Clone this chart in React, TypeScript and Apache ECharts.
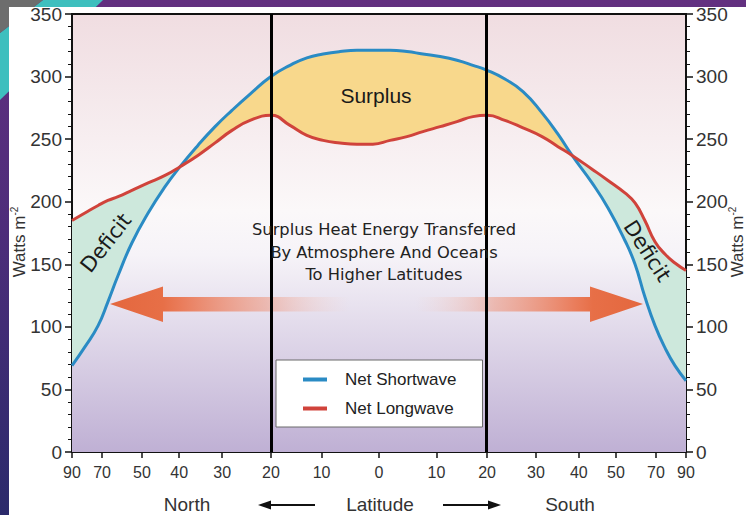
import React, { useEffect, useRef } from "react";
import * as echarts from "echarts";

// x positions on an area-weighted (sine) latitude scale: -1 = 90°N, 0 = equator, 1 = 90°S
const xPos = [
  -1.0, -0.958, -0.915, -0.883, -0.85, -0.805, -0.752, -0.697, -0.648, -0.59, -0.534,
  -0.479, -0.42, -0.352, -0.29, -0.235, -0.182, -0.127, -0.072, -0.02, 0.036, 0.091,
  0.143, 0.199, 0.254, 0.306, 0.352, 0.41, 0.469, 0.531, 0.583, 0.629, 0.694, 0.746,
  0.801, 0.834, 0.866, 0.899, 0.932, 0.964, 1.0,
];
const netShortwave = [
  69, 84, 101, 120, 141, 167, 191, 212, 228, 245, 260, 273, 286, 300, 309, 315, 318, 320,
  321, 321, 321, 320, 318, 316, 313, 309, 305, 298, 288, 271, 254, 237, 215, 195, 169, 150,
  124, 101, 83, 69, 57,
];
const netLongwave = [
  185, 191, 197, 201, 204, 209, 215, 221, 228, 237, 247, 257, 265, 269, 261, 253, 249, 247,
  246, 246, 249, 252, 256, 260, 264, 268, 269, 265, 259, 252, 244, 237, 226, 217, 207, 199,
  185, 168, 158, 151, 145,
];
const tickLabels = ["90", "70", "50", "40", "30", "20", "10", "0", "10", "20", "30", "40", "50", "70", "90"];
const tickPos = [-1, -0.902, -0.772, -0.651, -0.511, -0.352, -0.187, 0, 0.187, 0.352, 0.511, 0.651, 0.772, 0.902, 1];
const dividerPos = [-0.352, 0.352];
const yTicks = { min: 0, max: 350, interval: 50 };

const FONT = "'Liberation Sans', Arial, Helvetica, sans-serif";
const VFONT = "'DejaVu Sans', Verdana, sans-serif";
const BLUE = "#2a8bc4";
const RED = "#d0433b";

const GRID = { left: 72, right: 60, top: 14, bottom: 63 };
const H = 515;
const bgStops = [
  { offset: 0, color: "#f0dde1" },
  { offset: 0.45, color: "#fbf8f9" },
  { offset: 0.55, color: "#f6f3f8" },
  { offset: 1, color: "#bfb0d4" },
];

export default function App() {
  const ref = useRef<HTMLDivElement>(null);
  useEffect(() => {
    if (!ref.current) return;
    const chart = echarts.init(ref.current, undefined, { renderer: "svg" });
    const lower = xPos.map((x, i) => [x, Math.min(netShortwave[i], netLongwave[i])]);
    const sw = xPos.map((x, i) => [x, netShortwave[i]]);
    const lw = xPos.map((x, i) => [x, netLongwave[i]]);
    const smooth = 0.5;

    const fmt = (v: number) => {
      let best = 0;
      tickPos.forEach((p, i) => {
        if (Math.abs(p - v) < Math.abs(tickPos[best] - v)) best = i;
      });
      return tickLabels[best];
    };

    const yAxisCommon = (position: "left" | "right") => ({
      type: "value" as const,
      position,
      min: yTicks.min,
      max: yTicks.max,
      interval: yTicks.interval,
      axisLine: { show: true, onZero: false, lineStyle: { color: "#111", width: 2 } },
      axisTick: { show: true, length: 7, lineStyle: { color: "#111", width: 1.5 } },
      minorTick: { show: true, splitNumber: 5, length: 4, lineStyle: { color: "#111", width: 1 } },
      axisLabel: { fontSize: 19, color: "#333", fontFamily: FONT, margin: 10 },
      splitLine: { show: false },
    });

    const arrowGrad = (dir: "left" | "right") =>
      new echarts.graphic.LinearGradient(dir === "left" ? 0 : 1, 0, dir === "left" ? 1 : 0, 0, [
        { offset: 0, color: "#e4673e" },
        { offset: 0.22, color: "#e76f47" },
        { offset: 0.3, color: "#ea7d5c" },
        { offset: 0.65, color: "rgba(238,150,125,0.55)" },
        { offset: 1, color: "rgba(245,205,195,0)" },
      ]);

    const areaSeries = (data: number[][], fill: any) => ({
      type: "line",
      data,
      smooth,
      symbol: "none",
      lineStyle: { width: 0, opacity: 0 },
      areaStyle: { color: fill, opacity: 1, origin: "start" },
      silent: true,
      z: 1,
    });

    const unitText = (x: number) => ({
      type: "text",
      x,
      y: 242,
      rotation: Math.PI / 2,
      style: {
        text: "Watts m{sup|-2}",
        fontSize: 17,
        fontFamily: FONT,
        fill: "#333",
        align: "center",
        verticalAlign: "middle",
        rich: { sup: { fontSize: 10, fontFamily: FONT, fill: "#333", padding: [0, 0, 9, 0] } },
      },
    });

    chart.setOption({
      animation: false,
      grid: {
        ...GRID,
        outerBoundsMode: "none",
        containLabel: false,
        show: true,
        borderColor: "#111",
        borderWidth: 2,
        backgroundColor: new echarts.graphic.LinearGradient(0, 0, 0, 1, bgStops),
      },
      legend: {
        data: ["Net Shortwave", "Net Longwave"],
        orient: "vertical",
        left: 276,
        top: 360,
        backgroundColor: "#fff",
        borderColor: "#6b6b6b",
        borderWidth: 1,
        padding: [11, 26, 10, 27],
        itemGap: 12,
        itemWidth: 24,
        itemHeight: 4,
        icon: "rect",
        textStyle: { fontSize: 17, color: "#222", fontFamily: FONT, padding: [0, 0, 0, 13] },
      },
      xAxis: {
        type: "value",
        min: -1,
        max: 1,
        axisLine: { show: true, onZero: false, lineStyle: { color: "#111", width: 2 } },
        axisTick: { show: true, length: 6, customValues: tickPos, lineStyle: { color: "#111", width: 1.5 } },
        axisLabel: { customValues: tickPos, formatter: fmt, fontSize: 16, color: "#333", fontFamily: FONT, margin: 12 },
        splitLine: { show: false },
      },
      yAxis: [yAxisCommon("left"), yAxisCommon("right")],
      series: [
        // deficit colour (under the longwave curve)
        areaSeries(lw, "#cde8dc"),
        // surplus colour (under the shortwave curve)
        areaSeries(sw, "#f8d88c"),
        // below the lower curve: plot background again
        areaSeries(lower, new echarts.graphic.LinearGradient(0, GRID.top, 0, H - GRID.bottom, bgStops, true)),
        {
          name: "Net Shortwave",
          type: "line",
          data: sw,
          smooth,
          symbol: "none",
          color: BLUE,
          lineStyle: { color: BLUE, width: 3 },
          z: 3,
        },
        {
          name: "Net Longwave",
          type: "line",
          data: lw,
          smooth,
          symbol: "none",
          color: RED,
          lineStyle: { color: RED, width: 3 },
          z: 3,
        },
        {
          name: "dividers",
          type: "line",
          data: [],
          z: 6,
          markLine: {
            silent: true,
            symbol: "none",
            label: { show: false },
            lineStyle: { color: "#000", width: 3, type: "solid" },
            data: dividerPos.map((p) => ({ xAxis: p })),
          },
        },
      ],
      graphic: [
        unitText(19),
        unitText(737),
        {
          type: "polygon",
          z: 4,
          shape: {
            points: [
              [110, 304], [163, 286.5], [163, 297], [350, 297], [350, 311.5], [163, 311.5], [163, 322],
            ],
          },
          style: { fill: arrowGrad("left") },
          silent: true,
        },
        {
          type: "polygon",
          z: 4,
          shape: {
            points: [
              [643, 304], [590, 286.5], [590, 297], [415, 297], [415, 311.5], [590, 311.5], [590, 322],
            ],
          },
          style: { fill: arrowGrad("right") },
          silent: true,
        },
        {
          type: "text",
          z: 7,
          x: 376,
          y: 95,
          style: { text: "Surplus", fontSize: 21, fontFamily: FONT, fill: "#1a1a1a", align: "center", verticalAlign: "middle" },
        },
        {
          type: "text",
          z: 7,
          x: 384,
          y: 252,
          style: {
            text: "Surplus Heat Energy Transferred\nBy Atmosphere And Oceans\nTo Higher Latitudes",
            fontSize: 16.3,
            lineHeight: 22.5,
            fontFamily: VFONT,
            fill: "#222",
            align: "center",
            verticalAlign: "middle",
          },
        },
        {
          type: "text",
          z: 7,
          x: 106,
          y: 243,
          rotation: (52 * Math.PI) / 180,
          style: { text: "Deficit", fontSize: 21, fontFamily: VFONT, fill: "#1a1a1a", align: "center", verticalAlign: "middle" },
        },
        {
          type: "text",
          z: 7,
          x: 647,
          y: 251,
          rotation: (-57 * Math.PI) / 180,
          style: { text: "Deficit", fontSize: 21, fontFamily: VFONT, fill: "#1a1a1a", align: "center", verticalAlign: "middle" },
        },
        {
          type: "text",
          x: 187,
          y: 504,
          style: { text: "North", fontSize: 19, fontFamily: FONT, fill: "#333", align: "center", verticalAlign: "middle" },
        },
        {
          type: "text",
          x: 380,
          y: 504,
          style: { text: "Latitude", fontSize: 19, fontFamily: FONT, fill: "#333", align: "center", verticalAlign: "middle" },
        },
        {
          type: "text",
          x: 570,
          y: 504,
          style: { text: "South", fontSize: 19, fontFamily: FONT, fill: "#333", align: "center", verticalAlign: "middle" },
        },
        { type: "line", shape: { x1: 268, y1: 505, x2: 315, y2: 505 }, style: { stroke: "#111", lineWidth: 2 } },
        { type: "polygon", shape: { points: [[258, 505], [271, 500.5], [271, 509.5]] }, style: { fill: "#111" } },
        { type: "line", shape: { x1: 443, y1: 505, x2: 490, y2: 505 }, style: { stroke: "#111", lineWidth: 2 } },
        { type: "polygon", shape: { points: [[501, 505], [488, 500.5], [488, 509.5]] }, style: { fill: "#111" } },
      ],
    });
    return () => chart.dispose();
  }, []);

  return (
    <div
      style={{
        position: "fixed",
        left: 0,
        top: 0,
        width: 746,
        height: 515,
        overflow: "hidden",
        background: "linear-gradient(180deg, #633080 0%, #4d2d7a 45%, #2b2a6b 100%)",
      }}
    >
      <div
        style={{
          position: "absolute",
          inset: 0,
          background: "#3ebfbe",
          clipPath: "polygon(0px 33px, 43px 0px, 103px 0px, 0px 100px)",
        }}
      />
      <div
        style={{
          position: "absolute",
          inset: 0,
          background: "#6d6d6d",
          clipPath: "polygon(0px 0px, 43px 0px, 0px 33px)",
        }}
      />
      <div style={{ position: "absolute", left: 9, top: 7, right: 0, bottom: 0, background: "#fff" }} />
      <div ref={ref} style={{ position: "absolute", left: 0, top: 0, width: 746, height: 515 }} />
    </div>
  );
}
